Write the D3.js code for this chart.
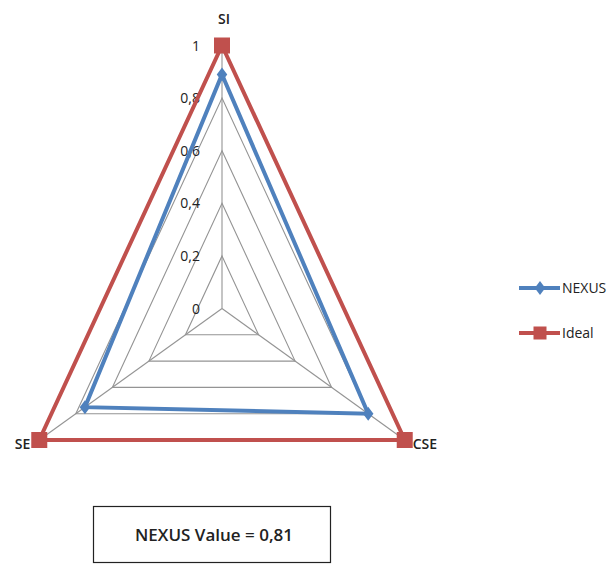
<!DOCTYPE html>
<html>
<head>
<meta charset="utf-8">
<script src="https://cdn.jsdelivr.net/npm/d3@7"></script>
<style>
  html, body { margin: 0; padding: 0; background: #fff; }
  svg { display: block; font-family: "Open Sans", "DejaVu Sans", sans-serif; }
</style>
</head>
<body>
<svg id="chart" width="614" height="565"></svg>
<script>
// Axes of the radar, clockwise from the top
const axes = ["SI", "CSE", "SE"];
// Series values per axis
const nexusValues = [0.89, 0.80, 0.75];
const idealValues = [1, 1, 1];
// Radial tick labels
const tickValues = [0, 0.2, 0.4, 0.6, 0.8, 1];
const tickLabels = ["0", "0,2", "0,4", "0,6", "0,8", "1"];
const seriesNames = ["NEXUS", "Ideal"];
const summaryText = "NEXUS Value = 0,81";

const svg = d3.select("#chart");
const cx = 222, cy = 308.5;
const colors = { NEXUS: "#4F81BD", Ideal: "#C0504D" };

// radial scales (the plot area is wider in y than in x)
const rX = d3.scaleLinear().domain([0, 1]).range([0, 211]);
const rY = d3.scaleLinear().domain([0, 1]).range([0, 263]);
const angle = d3.scalePoint().domain(axes).range([0, 240]);

function pt(axis, v) {
  const a = angle(axis) * Math.PI / 180;
  return [cx + rX(v) * Math.sin(a), cy - rY(v) * Math.cos(a)];
}

const line = d3.line().curve(d3.curveLinearClosed);

// grid rings
const g = svg.append("g");
tickValues.filter(t => t > 0).forEach(t => {
  g.append("path")
    .attr("d", line(axes.map(a => pt(a, t))))
    .attr("fill", "none")
    .attr("stroke", "#949494")
    .attr("stroke-width", 1.1);
});
// spokes
axes.forEach(a => {
  const [x, y] = pt(a, 1);
  g.append("line")
    .attr("x1", cx).attr("y1", cy).attr("x2", x).attr("y2", y)
    .attr("stroke", "#949494").attr("stroke-width", 1.1);
});

// radial tick labels along the top axis
svg.append("g").selectAll("text")
  .data(tickValues)
  .join("text")
  .attr("x", cx - 22)
  .attr("y", (d) => pt("SI", d)[1] + 5)
  .attr("text-anchor", "end")
  .attr("font-size", 14)
  .attr("fill", "#222")
  .text((d, i) => tickLabels[i]);

// series
function drawSeries(name, values) {
  const pts = axes.map((a, i) => pt(a, values[i]));
  svg.append("path")
    .attr("d", line(pts))
    .attr("fill", "none")
    .attr("stroke", colors[name])
    .attr("stroke-width", 4)
    .attr("stroke-linejoin", "miter");
  return pts;
}
const idealPts = drawSeries("Ideal", idealValues);
const nexusPts = drawSeries("NEXUS", nexusValues);

function square(sel, x, y, s, c) {
  sel.append("rect").attr("x", x - s / 2).attr("y", y - s / 2)
    .attr("width", s).attr("height", s).attr("fill", c);
}
function diamond(sel, x, y, s, c) {
  sel.append("path")
    .attr("d", `M${x},${y - s / 2}L${x + s / 2 * 0.75},${y}L${x},${y + s / 2}L${x - s / 2 * 0.75},${y}Z`)
    .attr("fill", c);
}
idealPts.forEach(([x, y]) => square(svg, x, y, 16, colors.Ideal));
nexusPts.forEach(([x, y]) => diamond(svg, x, y, 14, colors.NEXUS));

// axis names
const axisLabelPos = {
  SI: { dx: 2, dy: -22, anchor: "middle" },
  CSE: { dx: 8, dy: 9, anchor: "start" },
  SE: { dx: -9, dy: 9, anchor: "end" }
};
axes.forEach(a => {
  const [x, y] = pt(a, 1);
  const p = axisLabelPos[a];
  svg.append("text")
    .attr("x", x + p.dx).attr("y", y + p.dy)
    .attr("text-anchor", p.anchor)
    .attr("font-size", 14)
    .attr("font-weight", 600)
    .attr("fill", "#222")
    .text(a);
});

// legend
const legend = svg.append("g");
seriesNames.forEach((name, i) => {
  const y = 288 + i * 45;
  legend.append("line")
    .attr("x1", 519).attr("x2", 560).attr("y1", y).attr("y2", y)
    .attr("stroke", colors[name]).attr("stroke-width", 4);
  if (name === "NEXUS") diamond(legend, 540, y, 14, colors[name]);
  else square(legend, 540, y, 13, colors[name]);
  legend.append("text")
    .attr("x", 562).attr("y", y + 5)
    .attr("font-size", 14)
    .attr("fill", "#222")
    .text(name);
});

// summary box
svg.append("rect")
  .attr("x", 93.5).attr("y", 506.5).attr("width", 237).attr("height", 56)
  .attr("fill", "#fff").attr("stroke", "#222").attr("stroke-width", 1.2);
svg.append("text")
  .attr("x", 214).attr("y", 541)
  .attr("text-anchor", "middle")
  .attr("font-size", 17)
  .attr("font-weight", 600)
  .attr("fill", "#222")
  .text(summaryText);
</script>
</body>
</html>
